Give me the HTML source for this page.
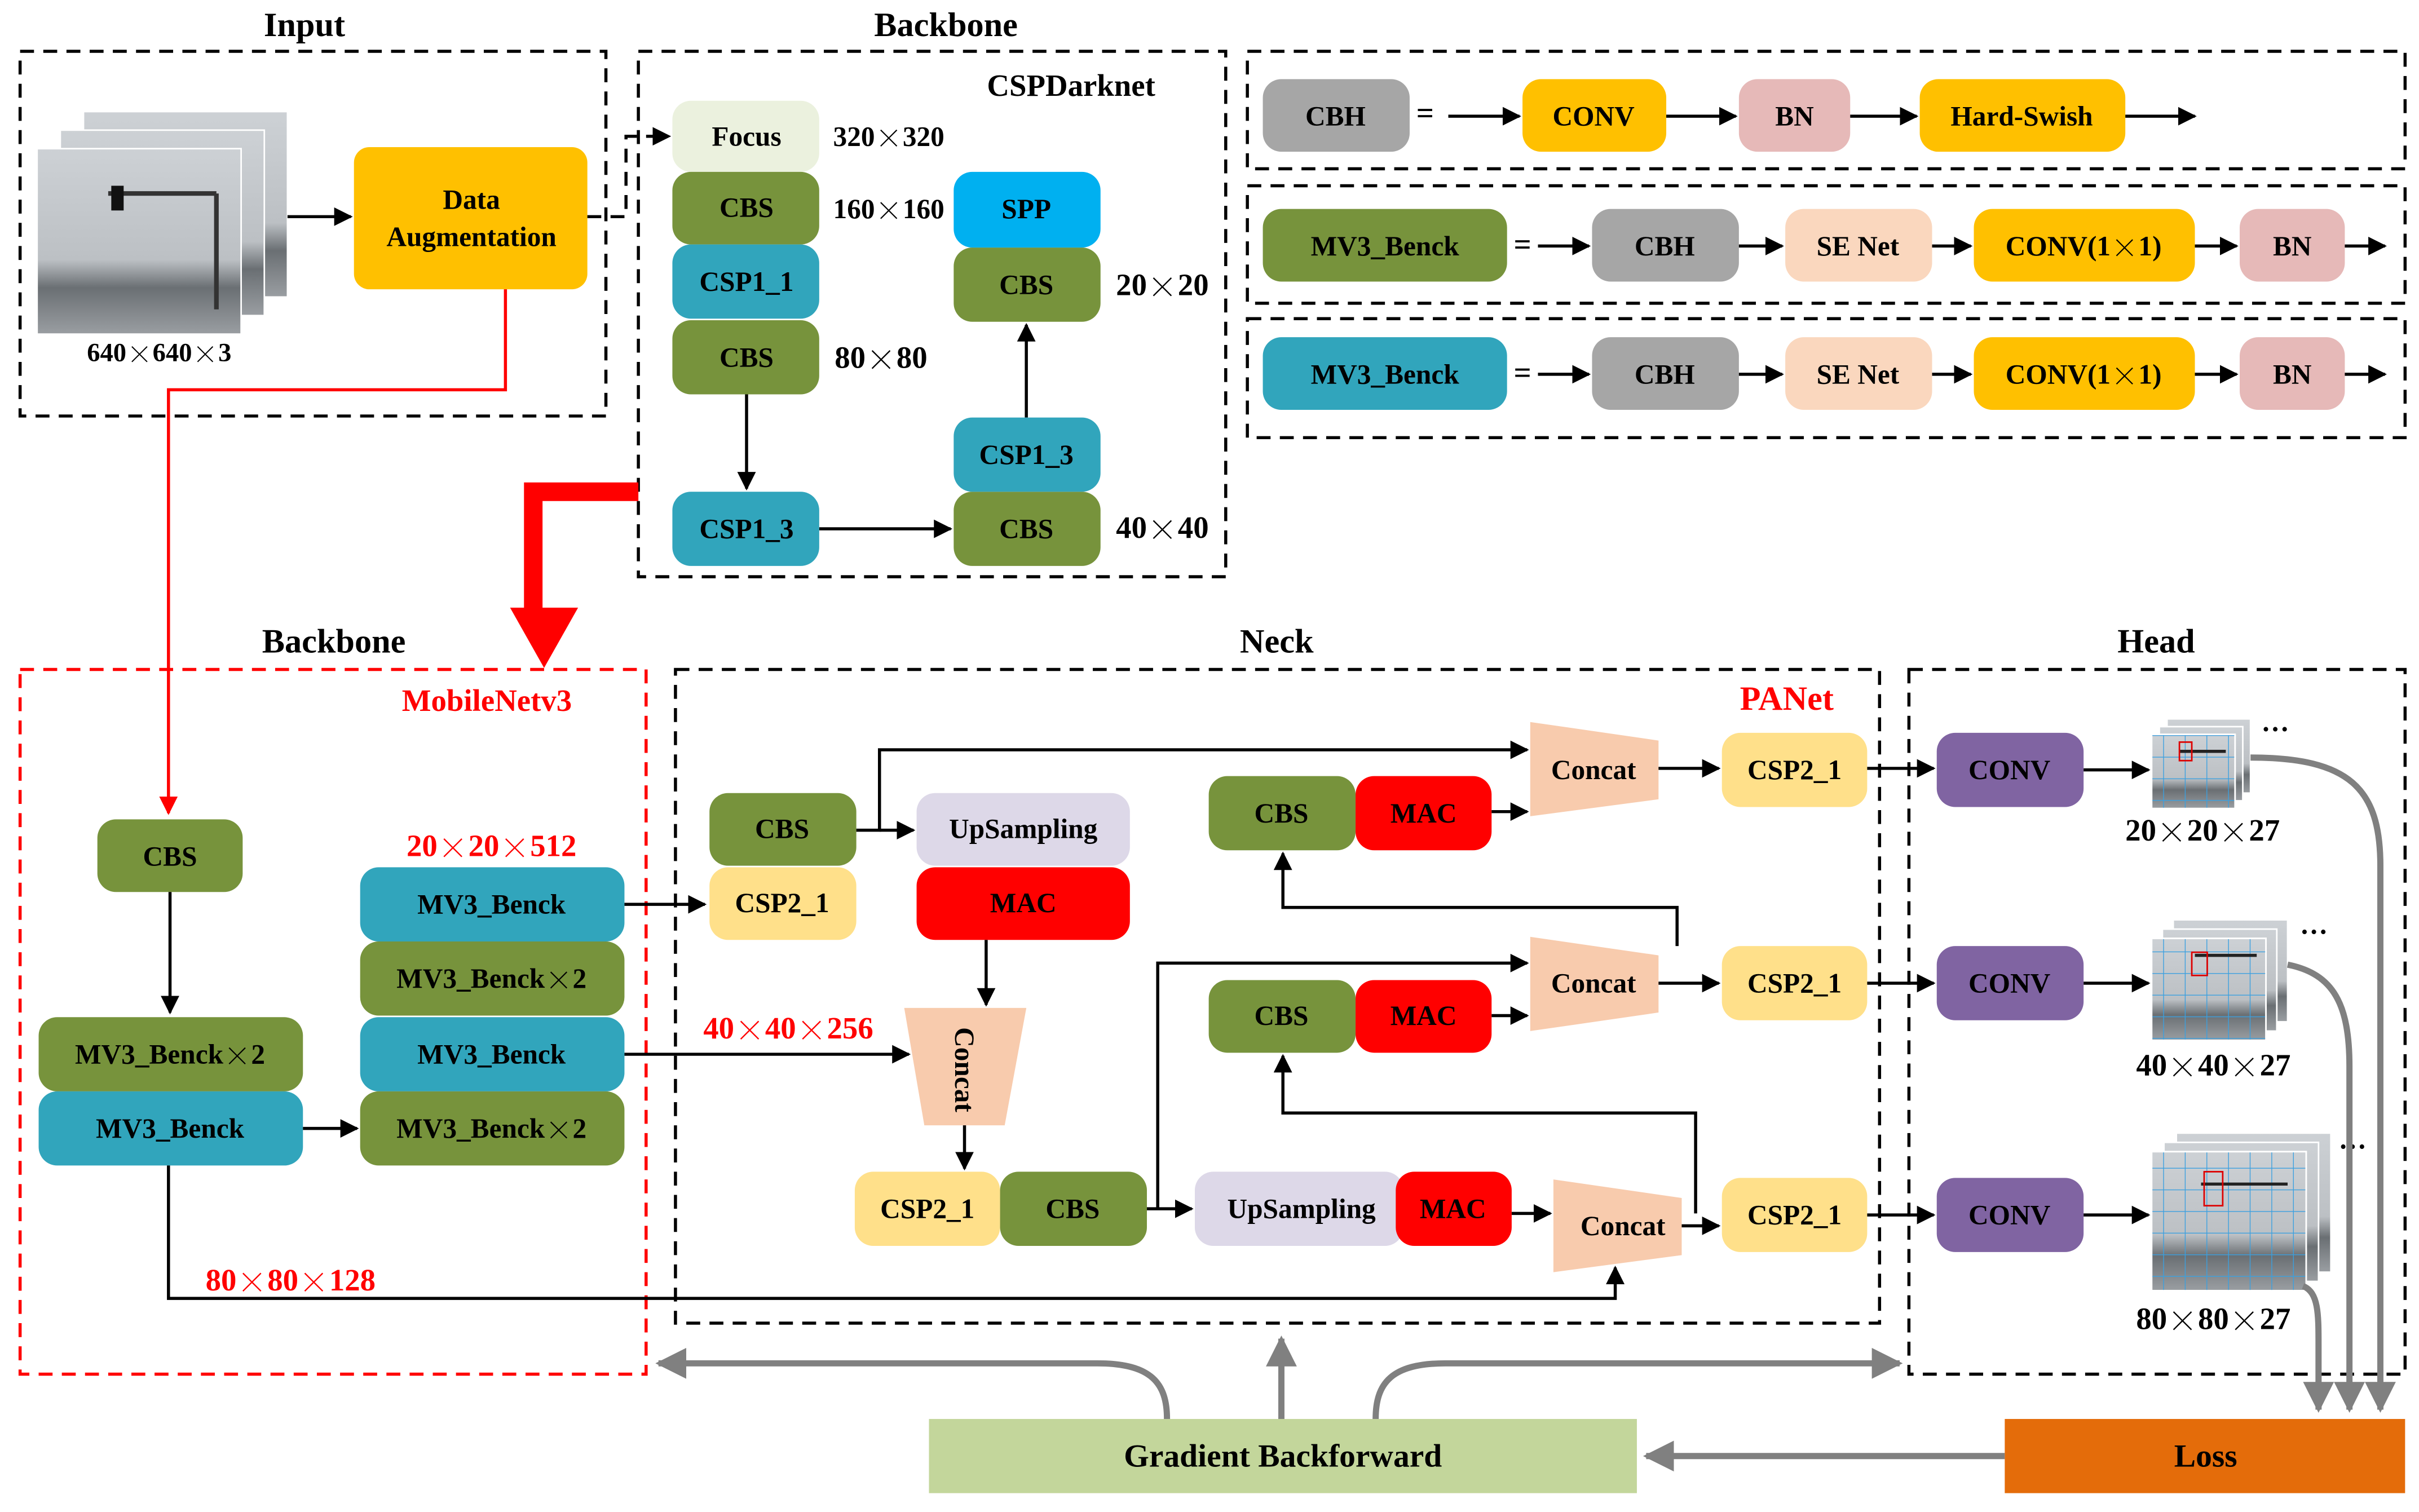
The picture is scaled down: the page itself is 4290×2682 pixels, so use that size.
<!DOCTYPE html>
<html><head><meta charset="utf-8"><style>
html,body{margin:0;padding:0;background:#fff}
svg{display:block}
text{font-family:"Liberation Serif",serif;font-weight:bold;text-anchor:middle;dominant-baseline:central}
.x{font-family:"Noto Serif CJK SC","Liberation Serif",serif;font-weight:normal}
</style></head><body>
<svg width="4290" height="2682" viewBox="0 0 1565 978" xmlns="http://www.w3.org/2000/svg">
<defs>
<marker id="a" viewBox="0 0 10 10" refX="9" refY="5" markerWidth="6" markerHeight="6" orient="auto-start-reverse"><path d="M0,0L10,5L0,10z" fill="#000"/></marker>
<marker id="g" viewBox="0 0 10 10" refX="9" refY="5" markerWidth="5" markerHeight="5" orient="auto"><path d="M0,0L10,5L0,10z" fill="#808080"/></marker>
<marker id="r" viewBox="0 0 10 10" refX="9" refY="5" markerWidth="6" markerHeight="6" orient="auto"><path d="M0,0L10,5L0,10z" fill="#f00"/></marker>
<pattern id="grid" width="14" height="14" patternUnits="userSpaceOnUse"><path d="M14,0V14M0,14H14" stroke="#3aa0e0" stroke-width="1" fill="none"/></pattern>
<linearGradient id="ph" x1="0" y1="0" x2="0" y2="1"><stop offset="0" stop-color="#cdd1d5"/><stop offset="0.6" stop-color="#bcc0c4"/><stop offset="0.75" stop-color="#6a6f73"/><stop offset="1" stop-color="#9a9ea2"/></linearGradient>
</defs>
<g fill="none" stroke="#000" stroke-width="2" stroke-dasharray="9,6">
<rect x="13" y="33" width="379" height="236"/>
<rect x="413" y="33" width="380" height="340"/>
<rect x="807" y="33" width="749" height="76"/>
<rect x="807" y="120" width="749" height="76"/>
<rect x="807" y="206" width="749" height="77"/>
<rect x="437" y="433" width="779" height="423"/>
<rect x="1235" y="433" width="321" height="456"/>
<rect x="13" y="433" width="405" height="456" stroke="#f00"/>
</g>
<g font-size="22">
<text x="197" y="16">Input</text><text x="612" y="16">Backbone</text>
<text x="216" y="415">Backbone</text><text x="826" y="415">Neck</text><text x="1395" y="415">Head</text>
</g>
<!-- input images -->
<rect x="54" y="72" width="132" height="120" fill="url(#ph)" stroke="#fff"/>
<rect x="39" y="84" width="132" height="120" fill="url(#ph)" stroke="#fff"/>
<rect x="24" y="96" width="132" height="120" fill="url(#ph)" stroke="#fff"/>
<path d="M70,125H140M140,125V200" stroke="#333" stroke-width="3"/>
<rect x="72" y="120" width="8" height="16" fill="#111"/>
<text x="103" y="228" font-size="17">640<tspan class="x">×</tspan>640<tspan class="x">×</tspan>3</text>
<rect x="229" y="95" width="151" height="92" rx="10" fill="#FFC000"/>
<text x="305" y="129" font-size="18">Data</text><text x="305" y="153" font-size="18">Augmentation</text>
<g stroke="#000" stroke-width="2" fill="none">
<path d="M186,140H227" marker-end="url(#a)"/>
<path d="M380,140H405V88H433" marker-end="url(#a)" stroke-dasharray="9,6"/>
<path d="M483,255V316" marker-end="url(#a)"/>
<path d="M530,342H615" marker-end="url(#a)"/>
<path d="M664,270V210" marker-end="url(#a)"/>
</g>
<path d="M327,187V252H109V526" stroke="#f00" stroke-width="2" fill="none" marker-end="url(#r)"/>
<path d="M413,318H345V395" stroke="#f00" stroke-width="12" fill="none"/>
<path d="M330,393L374,393L352,432z" fill="#f00"/>
<g font-size="18">
<text x="693" y="55" font-size="20">CSPDarknet</text>
<rect x="435" y="65" width="95" height="46" rx="12" fill="#EBF1DE"/><text x="483" y="88">Focus</text>
<rect x="435" y="111" width="95" height="47" rx="12" fill="#77933C"/><text x="483" y="134">CBS</text>
<rect x="435" y="158" width="95" height="48" rx="12" fill="#31A5BC"/><text x="483" y="182">CSP1_1</text>
<rect x="435" y="207" width="95" height="48" rx="12" fill="#77933C"/><text x="483" y="231">CBS</text>
<rect x="435" y="318" width="95" height="48" rx="12" fill="#31A5BC"/><text x="483" y="342">CSP1_3</text>
<rect x="617" y="318" width="95" height="48" rx="12" fill="#77933C"/><text x="664" y="342">CBS</text>
<rect x="617" y="270" width="95" height="48" rx="12" fill="#31A5BC"/><text x="664" y="294">CSP1_3</text>
<rect x="617" y="160" width="95" height="48" rx="12" fill="#77933C"/><text x="664" y="184">CBS</text>
<rect x="617" y="111" width="95" height="49" rx="12" fill="#00B0F0"/><text x="664" y="135">SPP</text>
<text x="575" y="88" font-size="18">320<tspan class="x">×</tspan>320</text><text x="575" y="135" font-size="18">160<tspan class="x">×</tspan>160</text>
<text x="570" y="231" font-size="20">80<tspan class="x">×</tspan>80</text><text x="752" y="341" font-size="20">40<tspan class="x">×</tspan>40</text><text x="752" y="184" font-size="20">20<tspan class="x">×</tspan>20</text>
</g>
<!-- legend -->
<g font-size="18">
<rect x="817" y="51" width="95" height="47" rx="12" fill="#A6A6A6"/><text x="864" y="75">CBH</text>
<text x="922" y="73" font-size="20">=</text>
<rect x="985" y="51" width="93" height="47" rx="12" fill="#FFC000"/><text x="1031" y="75">CONV</text>
<rect x="1125" y="51" width="72" height="47" rx="12" fill="#E6B9B8"/><text x="1161" y="75">BN</text>
<rect x="1242" y="51" width="133" height="47" rx="12" fill="#FFC000"/><text x="1308" y="75">Hard-Swish</text>
<rect x="817" y="135" width="158" height="47" rx="12" fill="#77933C"/><text x="896" y="159">MV3_Benck</text>
<rect x="817" y="218" width="158" height="47" rx="12" fill="#31A5BC"/><text x="896" y="242">MV3_Benck</text>
<text x="985" y="158" font-size="20">=</text><text x="985" y="241" font-size="20">=</text>
<rect x="1030" y="135" width="95" height="47" rx="12" fill="#A6A6A6"/><text x="1077" y="159">CBH</text>
<rect x="1030" y="218" width="95" height="47" rx="12" fill="#A6A6A6"/><text x="1077" y="242">CBH</text>
<rect x="1155" y="135" width="95" height="47" rx="12" fill="#FAD7BE"/><text x="1202" y="159">SE Net</text>
<rect x="1155" y="218" width="95" height="47" rx="12" fill="#FAD7BE"/><text x="1202" y="242">SE Net</text>
<rect x="1277" y="135" width="143" height="47" rx="12" fill="#FFC000"/><text x="1348" y="159">CONV(1<tspan class="x">×</tspan>1)</text>
<rect x="1277" y="218" width="143" height="47" rx="12" fill="#FFC000"/><text x="1348" y="242">CONV(1<tspan class="x">×</tspan>1)</text>
<rect x="1449" y="135" width="68" height="47" rx="12" fill="#E6B9B8"/><text x="1483" y="159">BN</text>
<rect x="1449" y="218" width="68" height="47" rx="12" fill="#E6B9B8"/><text x="1483" y="242">BN</text>
</g>
<g stroke="#000" stroke-width="2" fill="none" marker-end="url(#a)">
<path d="M937,75H983"/><path d="M1078,75H1123"/><path d="M1197,75H1240"/><path d="M1375,75H1420"/>
<path d="M995,159H1028"/><path d="M1125,159H1153"/><path d="M1250,159H1275"/><path d="M1420,159H1447"/><path d="M1517,159H1543"/>
<path d="M995,242H1028"/><path d="M1125,242H1153"/><path d="M1250,242H1275"/><path d="M1420,242H1447"/><path d="M1517,242H1543"/>
</g>
<!-- mobilenet -->
<g font-size="18">
<text x="315" y="453" fill="#f00" font-size="20">MobileNetv3</text>
<rect x="63" y="530" width="94" height="47" rx="12" fill="#77933C"/><text x="110" y="554">CBS</text>
<rect x="25" y="658" width="171" height="48" rx="12" fill="#77933C"/><text x="110" y="682">MV3_Benck<tspan class="x">×</tspan>2</text>
<rect x="25" y="706" width="171" height="48" rx="12" fill="#31A5BC"/><text x="110" y="730">MV3_Benck</text>
<text x="318" y="547" fill="#f00" font-size="20">20<tspan class="x">×</tspan>20<tspan class="x">×</tspan>512</text>
<rect x="233" y="561" width="171" height="48" rx="12" fill="#31A5BC"/><text x="318" y="585">MV3_Benck</text>
<rect x="233" y="609" width="171" height="48" rx="12" fill="#77933C"/><text x="318" y="633">MV3_Benck<tspan class="x">×</tspan>2</text>
<rect x="233" y="658" width="171" height="48" rx="12" fill="#31A5BC"/><text x="318" y="682">MV3_Benck</text>
<rect x="233" y="706" width="171" height="48" rx="12" fill="#77933C"/><text x="318" y="730">MV3_Benck<tspan class="x">×</tspan>2</text>
<text x="188" y="828" fill="#f00" font-size="20">80<tspan class="x">×</tspan>80<tspan class="x">×</tspan>128</text>
<text x="510" y="665" fill="#f00" font-size="20">40<tspan class="x">×</tspan>40<tspan class="x">×</tspan>256</text>
</g>
<!-- neck shapes -->
<g fill="#F8CBAD">
<path d="M585,652H664L650,728H598z"/>
<path d="M990,467L1073,479V517L990,528z"/>
<path d="M990,606L1073,618V655L990,667z"/>
<path d="M1005,763L1088,775V812L1005,823z"/>
</g>
<g font-size="18">
<rect x="459" y="513" width="95" height="47" rx="12" fill="#77933C"/><text x="506" y="536">CBS</text>
<rect x="459" y="561" width="95" height="47" rx="12" fill="#FFE08A"/><text x="506" y="584">CSP2_1</text>
<rect x="593" y="513" width="138" height="47" rx="12" fill="#DDD8E8"/><text x="662" y="536">UpSampling</text>
<rect x="593" y="561" width="138" height="47" rx="12" fill="#FF0000"/><text x="662" y="584">MAC</text>
<text x="624" y="692" transform="rotate(90 624 692)">Concat</text>
<rect x="553" y="758" width="94" height="48" rx="12" fill="#FFE08A"/><text x="600" y="782">CSP2_1</text>
<rect x="647" y="758" width="95" height="48" rx="12" fill="#77933C"/><text x="694" y="782">CBS</text>
<rect x="773" y="758" width="135" height="48" rx="12" fill="#DDD8E8"/><text x="842" y="782">UpSampling</text>
<rect x="903" y="758" width="75" height="48" rx="12" fill="#FF0000"/><text x="940" y="782">MAC</text>
<text x="1050" y="793">Concat</text><text x="1031" y="498">Concat</text><text x="1031" y="636">Concat</text>
<rect x="782" y="502" width="95" height="48" rx="12" fill="#77933C"/><text x="829" y="526">CBS</text>
<rect x="877" y="502" width="88" height="48" rx="12" fill="#FF0000"/><text x="921" y="526">MAC</text>
<rect x="782" y="634" width="95" height="47" rx="12" fill="#77933C"/><text x="829" y="657">CBS</text>
<rect x="877" y="634" width="88" height="47" rx="12" fill="#FF0000"/><text x="921" y="657">MAC</text>
<text x="1156" y="452" fill="#f00" font-size="22">PANet</text>
<rect x="1114" y="474" width="94" height="48" rx="12" fill="#FFE08A"/><text x="1161" y="498">CSP2_1</text>
<rect x="1114" y="612" width="94" height="48" rx="12" fill="#FFE08A"/><text x="1161" y="636">CSP2_1</text>
<rect x="1114" y="762" width="94" height="48" rx="12" fill="#FFE08A"/><text x="1161" y="786">CSP2_1</text>
<rect x="1253" y="474" width="95" height="48" rx="12" fill="#8064A2"/><text x="1300" y="498">CONV</text>
<rect x="1253" y="612" width="95" height="48" rx="12" fill="#8064A2"/><text x="1300" y="636">CONV</text>
<rect x="1253" y="762" width="95" height="48" rx="12" fill="#8064A2"/><text x="1300" y="786">CONV</text>
</g>
<g stroke="#000" stroke-width="2" fill="none" marker-end="url(#a)">
<path d="M110,577V655"/>
<path d="M196,730H231"/>
<path d="M109,754V840H1045V820"/>
<path d="M404,585H456"/>
<path d="M404,682H588"/>
<path d="M554,537H569V485H988"/>
<path d="M569,537H591"/>
<path d="M638,608V650"/>
<path d="M624,728V756"/>
<path d="M742,782H771"/>
<path d="M749,782V623H988"/>
<path d="M978,785H1003"/>
<path d="M965,525H988"/><path d="M965,657H988"/>
<path d="M1073,497H1112"/><path d="M1073,636H1112"/><path d="M1088,793H1112"/>
<path d="M1085,612V587H830V552"/>
<path d="M1097,785V720H830V683"/>
<path d="M1208,497H1251"/><path d="M1208,636H1251"/><path d="M1208,786H1251"/>
<path d="M1348,498H1390"/><path d="M1348,636H1390"/><path d="M1348,786H1390"/>
</g>
<!-- head images -->
<g stroke="#fff" stroke-width="1">
<rect x="1402" y="465" width="54" height="48" fill="url(#ph)"/><rect x="1397" y="470" width="54" height="48" fill="url(#ph)"/>
<rect x="1392" y="475" width="54" height="48" fill="url(#ph)"/><rect x="1392" y="475" width="54" height="48" fill="url(#grid)"/>
<rect x="1406" y="595" width="74" height="66" fill="url(#ph)"/><rect x="1399" y="601" width="74" height="66" fill="url(#ph)"/>
<rect x="1392" y="607" width="74" height="66" fill="url(#ph)"/><rect x="1392" y="607" width="74" height="66" fill="url(#grid)"/>
<rect x="1408" y="733" width="100" height="90" fill="url(#ph)"/><rect x="1400" y="739" width="100" height="90" fill="url(#ph)"/>
<rect x="1392" y="745" width="100" height="90" fill="url(#ph)"/><rect x="1392" y="745" width="100" height="90" fill="url(#grid)"/>
</g>
<path d="M1410,486H1440M1420,618H1460M1424,766H1480" stroke="#222" stroke-width="2"/>
<rect x="1410" y="480" width="8" height="12" fill="none" stroke="#d00"/>
<rect x="1418" y="616" width="10" height="15" fill="none" stroke="#d00"/>
<rect x="1426" y="758" width="12" height="22" fill="none" stroke="#d00"/>
<g font-size="18"><text x="1472" y="467">…</text><text x="1497" y="598">…</text><text x="1522" y="737">…</text>
<text x="1425" y="537" font-size="20">20<tspan class="x">×</tspan>20<tspan class="x">×</tspan>27</text><text x="1432" y="689" font-size="20">40<tspan class="x">×</tspan>40<tspan class="x">×</tspan>27</text><text x="1432" y="853" font-size="20">80<tspan class="x">×</tspan>80<tspan class="x">×</tspan>27</text></g>
<!-- gray -->
<g stroke="#808080" stroke-width="4" fill="none">
<path d="M1456,490C1520,490 1540,510 1540,560V912" marker-end="url(#g)"/>
<path d="M1480,624C1510,630 1520,650 1520,690V912" marker-end="url(#g)"/>
<path d="M1490,832C1500,836 1500,850 1500,870V912" marker-end="url(#g)"/>
<path d="M1297,942H1065" marker-end="url(#g)"/>
<path d="M755,918C755,895 745,882 710,882H426" marker-end="url(#g)"/>
<path d="M829,918V866" marker-end="url(#g)"/>
<path d="M890,918C890,895 900,882 935,882H1229" marker-end="url(#g)"/>
</g>
<rect x="601" y="918" width="458" height="48" fill="#C3D69B"/><text x="830" y="942" font-size="21">Gradient Backforward</text>
<rect x="1297" y="918" width="259" height="48" fill="#E46C0A"/><text x="1427" y="942" font-size="21">Loss</text>
</svg>
</body></html>
